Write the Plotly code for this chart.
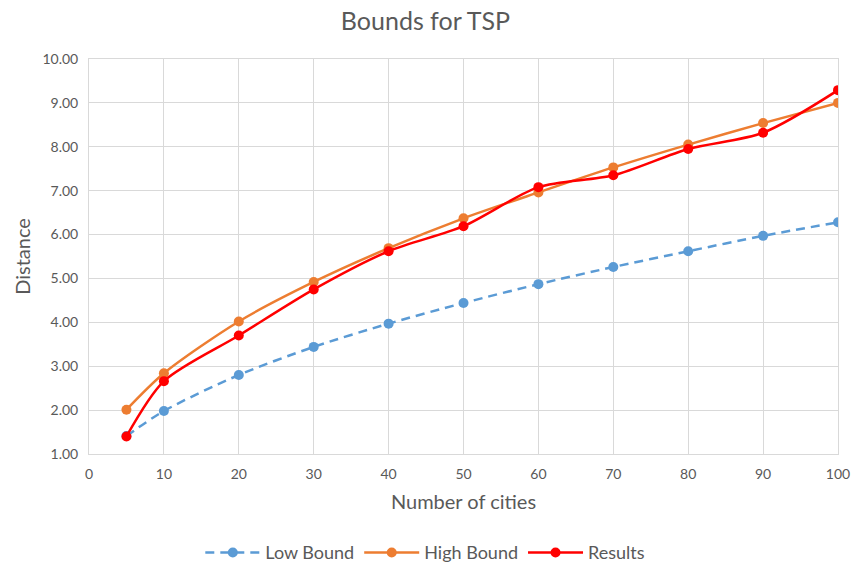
import plotly.graph_objects as go

# Number of cities on the x axis
cities = [5, 10, 20, 30, 40, 50, 60, 70, 80, 90, 100]

# Tour-length series
low_bound = [1.41, 1.98, 2.80, 3.44, 3.97, 4.44, 4.87, 5.26, 5.62, 5.97, 6.28]
high_bound = [2.01, 2.84, 4.02, 4.92, 5.69, 6.37, 6.96, 7.53, 8.05, 8.54, 9.00]
results = [1.40, 2.66, 3.70, 4.75, 5.62, 6.19, 7.08, 7.35, 7.95, 8.32, 9.29]

series = [
    ("Low Bound", low_bound, "#5B9BD5", "9px,6px"),
    ("High Bound", high_bound, "#ED7D31", "solid"),
    ("Results", results, "#FF0000", "solid"),
]

FONT = "Lato, 'Open Sans', sans-serif"
GREY = "#595959"

fig = go.Figure()
for name, values, color, dash in series:
    fig.add_trace(go.Scatter(
        x=cities, y=values, name=name, mode="lines+markers",
        line=dict(color=color, width=2.5, dash=dash, shape="spline", smoothing=0.8),
        marker=dict(color=color, size=10),
    ))

fig.update_layout(
    width=851, height=565,
    margin=dict(l=89, r=13, t=59, b=111, autoexpand=False),
    paper_bgcolor="white", plot_bgcolor="white",
    font=dict(family=FONT, color=GREY),
    title=dict(text="Bounds for TSP", x=0.5, xanchor="center", y=0.962, yanchor="middle",
               font=dict(size=25, color=GREY, family=FONT)),
    showlegend=True,
    legend=dict(orientation="h", x=0.449, xanchor="center", y=-0.25, yanchor="middle",
                font=dict(size=18, color=GREY), itemwidth=55, tracegroupgap=20),
    xaxis=dict(
        range=[0, 100], tickmode="array", tickvals=list(range(0, 101, 10)),
        showgrid=True, gridcolor="#D9D9D9", gridwidth=1,
        showline=True, linecolor="#D9D9D9", linewidth=1, mirror=True,
        zeroline=False, ticks="", automargin=False, ticklabeloverflow="allow",
        ticklabelstandoff=7,
        tickfont=dict(size=14, color=GREY),
        title=dict(text="Number of cities", font=dict(size=20, color=GREY), standoff=14),
    ),
    yaxis=dict(
        range=[1, 10], tickmode="array", tickvals=list(range(1, 11)), tickformat=".2f",
        showgrid=True, gridcolor="#D9D9D9", gridwidth=1,
        showline=True, linecolor="#D9D9D9", linewidth=1, mirror=True,
        zeroline=False, ticks="", automargin=False, ticklabeloverflow="allow",
        ticklabelstandoff=7,
        tickfont=dict(size=14, color=GREY),
        title=dict(text="Distance", font=dict(size=20, color=GREY), standoff=6),
    ),
)

fig.write_html("out.html")
